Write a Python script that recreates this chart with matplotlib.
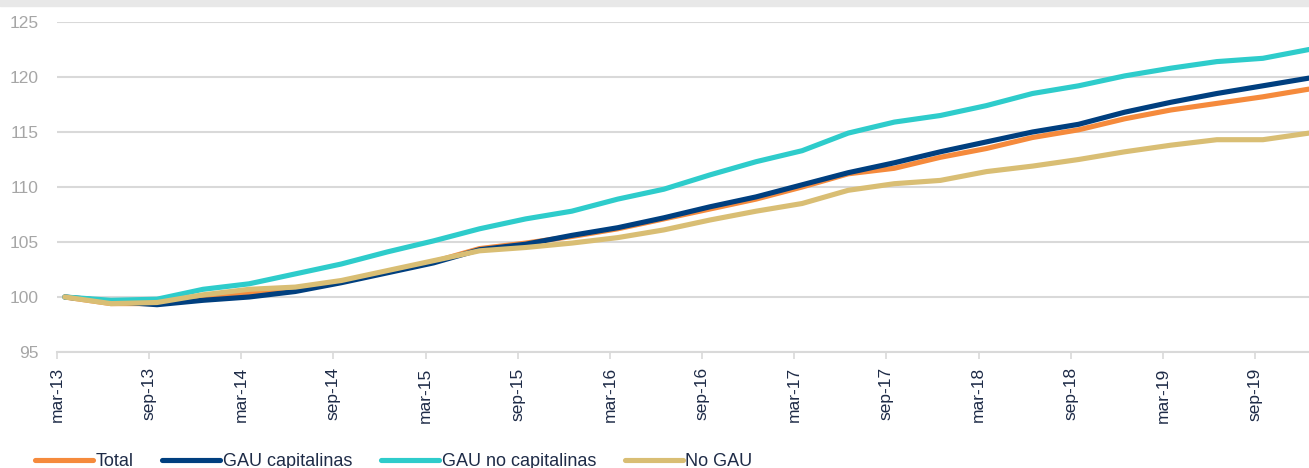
import matplotlib
matplotlib.use("Agg")
import matplotlib.pyplot as plt
from matplotlib.patches import Rectangle

# quarterly index, base mar-13 = 100
quarters = ["mar-13", "jun-13", "sep-13", "dic-13",
            "mar-14", "jun-14", "sep-14", "dic-14",
            "mar-15", "jun-15", "sep-15", "dic-15",
            "mar-16", "jun-16", "sep-16", "dic-16",
            "mar-17", "jun-17", "sep-17", "dic-17",
            "mar-18", "jun-18", "sep-18", "dic-18",
            "mar-19", "jun-19", "sep-19", "dic-19"]

total = [100, 99.4, 99.4, 99.8, 100.3, 100.7, 101.4, 102.3, 103.2, 104.4,
         104.9, 105.5, 106.2, 107.1, 108.0, 108.9, 110.0, 111.2, 111.7, 112.7,
         113.5, 114.5, 115.2, 116.2, 117.0, 117.6, 118.2, 118.9]
gau_cap = [100, 99.6, 99.3, 99.7, 100.0, 100.5, 101.3, 102.2, 103.1, 104.3,
           104.8, 105.6, 106.3, 107.2, 108.2, 109.1, 110.2, 111.3, 112.2, 113.2,
           114.1, 115.0, 115.7, 116.8, 117.7, 118.5, 119.2, 119.9]
gau_no_cap = [100, 99.7, 99.8, 100.7, 101.2, 102.1, 103.0, 104.1, 105.1, 106.2,
              107.1, 107.8, 108.9, 109.8, 111.1, 112.3, 113.3, 114.9, 115.9, 116.5,
              117.4, 118.5, 119.2, 120.1, 120.8, 121.4, 121.7, 122.5]
no_gau = [100, 99.4, 99.5, 100.2, 100.7, 100.9, 101.5, 102.4, 103.3, 104.2,
          104.5, 104.9, 105.4, 106.1, 107.0, 107.8, 108.5, 109.7, 110.3, 110.6,
          111.4, 111.9, 112.5, 113.2, 113.8, 114.3, 114.3, 114.9]

series = [("Total", total, "#F58A3C"),
          ("GAU capitalinas", gau_cap, "#003F7F"),
          ("GAU no capitalinas", gau_no_cap, "#2ECCCB"),
          ("No GAU", no_gau, "#D9BE74")]

plt.rcParams["font.family"] = ["Liberation Sans", "DejaVu Sans"]

fig = plt.figure(figsize=(13.09, 4.68), dpi=100)
ax = fig.add_axes([57 / 1309, 1 - 352 / 468, 1 - 57 / 1309, 330 / 468])

x = list(range(len(quarters)))
for name, vals, col in series:
    ax.plot(x, vals, color=col, lw=3.7, label=name,
            solid_joinstyle="round", solid_capstyle="round")

grid_col = "#D9D9D9"
ax.set_ylim(95, 125)
ax.set_yticks(range(95, 126, 5))
ax.set_xlim(-0.17, 27.0)
tick_pos = [i - 0.17 for i in range(0, len(quarters), 2)]
ax.set_xticks(tick_pos)
ax.set_xticklabels(quarters[::2], rotation=90, fontsize=12.5, color="#1E2B47")
ax.tick_params(axis="x", length=5, width=1.2, color=grid_col, pad=6)
ax.tick_params(axis="y", length=0, labelsize=12.5, labelcolor="#A6A6A6", pad=13)
ax.grid(axis="y", color=grid_col, lw=1.5)
ax.set_axisbelow(True)
for s in ["top", "right", "left"]:
    ax.spines[s].set_visible(False)
ax.spines["bottom"].set_color(grid_col)
ax.spines["bottom"].set_linewidth(1.5)

# grey strip along the top edge
fig.patches.append(Rectangle((0, 1 - 6 / 468), 1, 6 / 468, transform=fig.transFigure,
                             color="#E8E8E8", zorder=0))

leg = fig.legend(loc="center left", bbox_to_anchor=(35 / 1309, 1 - 462 / 468), ncol=4,
                 frameon=False, fontsize=13, handlelength=3.2, handletextpad=0.15,
                 columnspacing=1.6, borderaxespad=0, borderpad=0)
for t in leg.get_texts():
    t.set_color("#1E2B47")

fig.savefig("out.png", dpi=100)
